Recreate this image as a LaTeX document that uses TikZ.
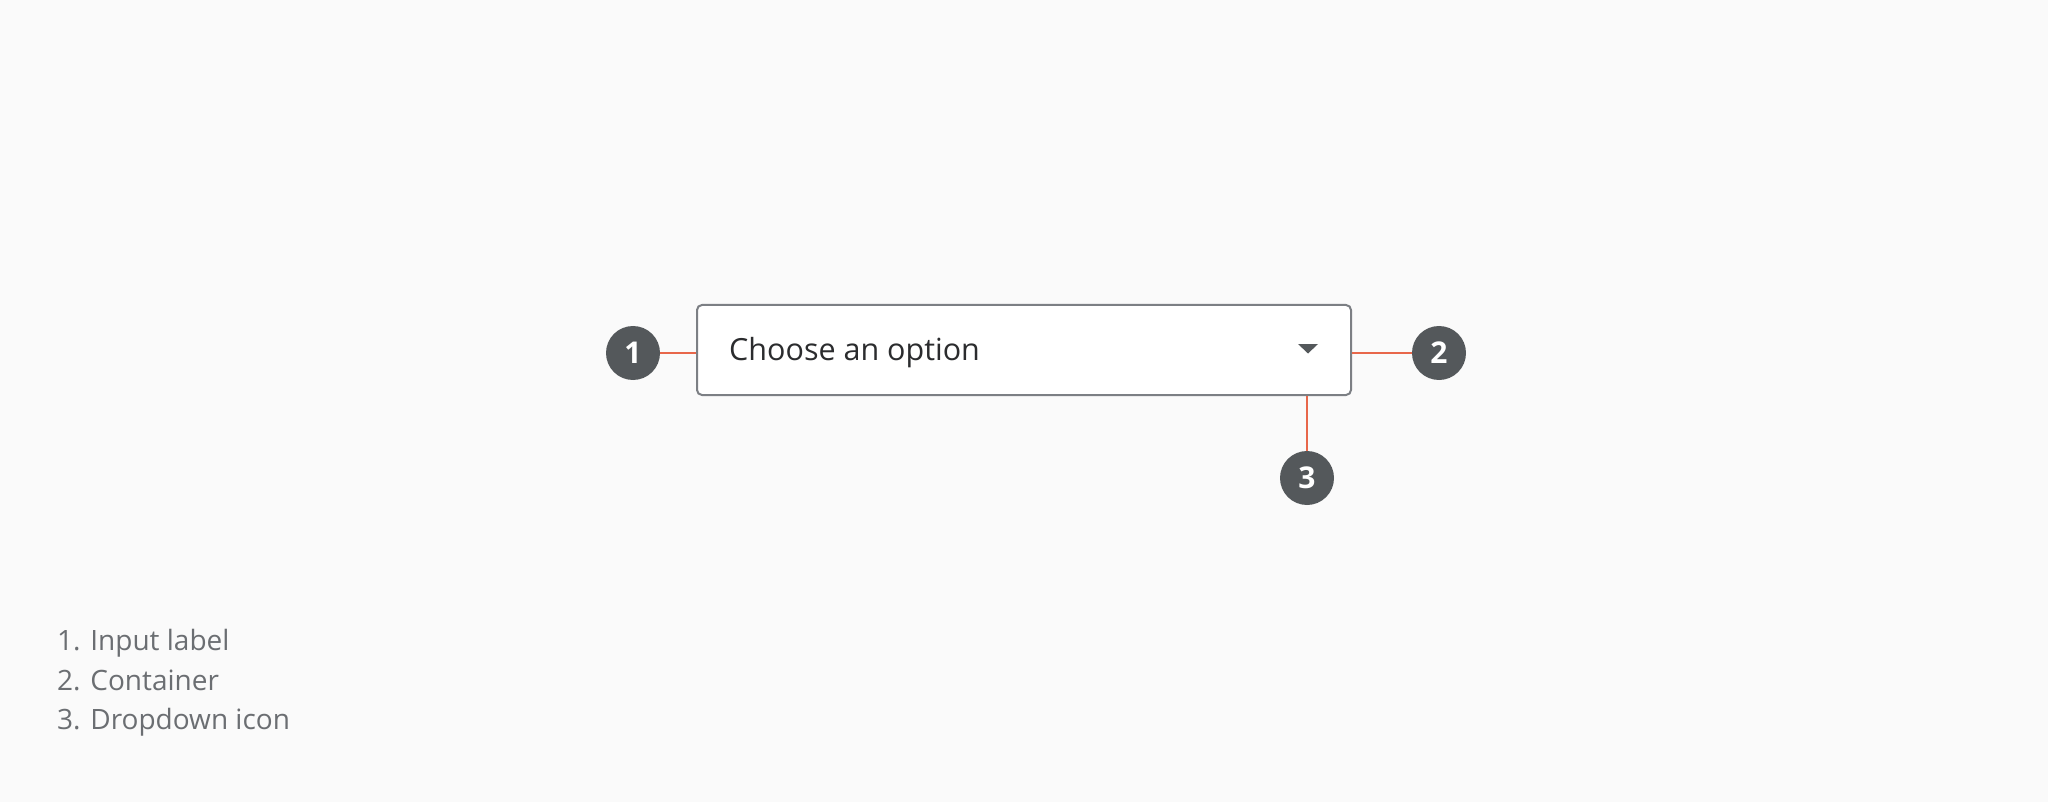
\documentclass[tikz,border=0pt]{standalone}
\usepackage{fontspec}
\setmainfont{Open Sans}
\definecolor{bg}{HTML}{FAFAFA}
\definecolor{boxline}{HTML}{7C7F84}
\definecolor{badge}{HTML}{54585B}
\definecolor{conn}{HTML}{E8674A}
\definecolor{maintext}{HTML}{2B2C2E}
\definecolor{legend}{HTML}{6B6E72}
\tikzset{
  selbox/.style={draw=boxline, line width=2pt, fill=white, rounded corners=5pt, inner sep=0pt},
  badgenode/.style={circle, fill=badge, minimum size=54pt, inner sep=0pt, text=white, font=\fontsize{30}{36}\selectfont\bfseries},
  connline/.style={draw=conn, line width=2pt},
  legendtext/.style={anchor=base west, inner sep=0pt, text=legend, font=\fontsize{28}{34}\selectfont},
}
\begin{document}
\begin{tikzpicture}[x=1pt,y=-1pt]
\fill[bg] (0,0) rectangle (2048,802);
\useasboundingbox (0,0) rectangle (2048,802);
\node[selbox, minimum width=654pt, minimum height=90pt] (box) at (1024,350) {};
\node[anchor=base west, inner sep=0pt, text=maintext, font=\fontsize{30.5}{36}\selectfont] (sel) at (729,360) {Choose an option};
\coordinate (tri) at (1308,344);
\fill[badge] (1298,344) -- (1318,344) -- (1308,353.5) -- cycle;
\node[badgenode] (c1) at (633,353) {1};
\node[badgenode] (c2) at (1439,353) {2};
\node[badgenode] (c3) at (1307,478) {3};
\draw[connline] (c1.east) -- (c1.east -| box.west);
\draw[connline] (c2.west) -- (c2.west -| box.east);
\draw[connline] (c3.north) -- (c3.north |- box.south);
\node[legendtext] (l1) at (57,650) {1. Input label};
\node[legendtext] (l2) at (57,690) {2. Container};
\node[legendtext] (l3) at (57,729) {3. Dropdown icon};
\end{tikzpicture}
\end{document}
